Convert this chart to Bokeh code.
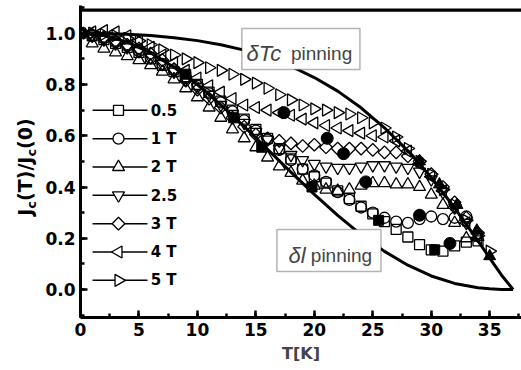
import math
from bokeh.plotting import figure
from bokeh.layouts import row
from bokeh.core.properties import value
from bokeh.models import (SingleIntervalTicker, PrintfTickFormatter, BoxAnnotation, Label,
                          Range1d, Div)
from bokeh.embed import file_html
from bokeh.resources import INLINE

# ---------------- data ----------------
T_sq = [0, 1, 2, 3, 4, 5, 6, 7, 8, 9, 10, 11, 12, 13, 14, 15, 16, 17, 18, 19, 20,
        21, 22, 23, 24, 25, 26, 27, 28, 29, 30, 31, 32, 33, 34]
J_sq = [1.00, 0.99, 0.975, 0.96, 0.945, 0.925, 0.90, 0.875, 0.85, 0.83, 0.80, 0.77, 0.735, 0.70,
        0.665, 0.625, 0.59, 0.55, 0.51, 0.47, 0.44, 0.415, 0.385, 0.355, 0.325, 0.295, 0.265,
        0.235, 0.205, 0.175, 0.155, 0.150, 0.170, 0.185, 0.190]

T_ci = [0, 1, 2, 3, 4, 5, 6, 7, 8, 9, 10, 11, 12, 13, 14, 15, 16, 17, 18, 19, 20,
        21, 22, 23, 24, 25, 26, 27, 28, 29, 30, 31, 32, 33]
J_ci = [1.0, 0.99, 0.98, 0.965, 0.95, 0.93, 0.905, 0.88, 0.855, 0.825, 0.795, 0.765, 0.73, 0.695,
        0.66, 0.62, 0.585, 0.545, 0.505, 0.47, 0.445, 0.42, 0.38, 0.35, 0.32, 0.30, 0.28, 0.265,
        0.26, 0.275, 0.285, 0.275, 0.28, 0.285]

T_tri = [0, 1, 2, 3, 4, 5, 6, 7, 8, 9, 10, 11, 12, 13, 14, 15, 16, 17, 18, 19, 20,
         21, 22, 23, 24, 25, 26, 27, 28, 29, 30, 31, 32, 33, 34]
J_tri = [1.0, 0.96, 0.94, 0.925, 0.91, 0.895, 0.875, 0.85, 0.82, 0.785, 0.75, 0.71, 0.67, 0.625,
         0.59, 0.555, 0.515, 0.48, 0.455, 0.425, 0.405, 0.39, 0.385, 0.39, 0.405, 0.415, 0.415,
         0.41, 0.41, 0.40, 0.37, 0.33, 0.26, 0.20, 0.205]

T_inv = [0, 1, 2, 3, 4, 5, 6, 7, 8, 9, 10, 11, 12, 13, 14, 15, 16, 17, 18, 19, 20,
         21, 22, 23, 24, 25, 26, 27, 28, 29, 30, 31, 32, 33, 34]
J_inv = [1.0, 0.99, 0.975, 0.96, 0.945, 0.93, 0.905, 0.88, 0.85, 0.82, 0.79, 0.76, 0.72, 0.685,
         0.65, 0.615, 0.585, 0.55, 0.525, 0.505, 0.49, 0.48, 0.475, 0.475, 0.48, 0.485, 0.485,
         0.48, 0.475, 0.46, 0.43, 0.38, 0.32, 0.26, 0.21]

T_dia = [0, 1, 2, 3, 4, 5, 6, 7, 8, 9, 10, 11, 12, 13, 14, 15, 16, 17, 18, 19, 20,
         21, 22, 23, 24, 25, 26, 27, 28, 29, 30, 31, 32, 33, 34]
J_dia = [1.0, 0.995, 0.985, 0.97, 0.955, 0.94, 0.92, 0.895, 0.86, 0.815, 0.78, 0.745, 0.71, 0.67,
         0.635, 0.605, 0.59, 0.58, 0.57, 0.56, 0.565, 0.555, 0.55, 0.55, 0.55, 0.545, 0.535,
         0.535, 0.52, 0.50, 0.45, 0.40, 0.34, 0.28, 0.22]

T_lt = [0, 1, 2, 3, 4, 5, 6, 7, 8, 9, 10, 11, 12, 13, 14, 15, 16, 17, 18, 19, 20,
        21, 22, 23, 24, 25, 26, 27, 28, 29, 30, 31, 32, 33, 34]
J_lt = [1.0, 1.005, 1.01, 1.005, 0.99, 0.97, 0.945, 0.915, 0.885, 0.855, 0.825, 0.795, 0.77, 0.745,
        0.72, 0.71, 0.70, 0.69, 0.68, 0.665, 0.65, 0.64, 0.63, 0.62, 0.61, 0.60, 0.595, 0.58,
        0.54, 0.49, 0.44, 0.385, 0.32, 0.26, 0.20]

T_rt = [0, 1, 2, 3, 4, 5, 6, 7, 8, 9, 10, 11, 12, 13, 14, 15, 16, 17, 18, 19, 20,
        21, 22, 23, 24, 25, 26, 27, 28, 29, 30, 31, 32, 33, 34, 35]
J_rt = [1.0, 1.0, 0.995, 0.99, 0.98, 0.97, 0.955, 0.935, 0.915, 0.90, 0.885, 0.865, 0.855, 0.84,
        0.82, 0.805, 0.785, 0.76, 0.74, 0.72, 0.705, 0.70, 0.69, 0.685, 0.67, 0.65, 0.63, 0.595,
        0.55, 0.50, 0.45, 0.39, 0.33, 0.27, 0.21, 0.15]

# filled (black) points
T_fsq = [9.0, 13.1, 15.5, 19.8, 25.5, 30.3]
J_fsq = [0.84, 0.67, 0.555, 0.40, 0.27, 0.155]
T_fci = [17.4, 21.1, 22.5, 24.4, 29.0, 31.6]
J_fci = [0.69, 0.59, 0.53, 0.42, 0.29, 0.18]
T_ftr = [29.0, 30.7, 32.2, 33.9, 35.0]
J_ftr = [0.50, 0.41, 0.33, 0.23, 0.13]

# theoretical curves
T_curve = [0, 2, 4, 6, 8, 10, 12, 14, 16, 18, 20, 22, 24, 26, 28, 30, 32, 34, 35, 36, 37]
J_dTc = [1.0, 0.999, 0.996, 0.991, 0.982, 0.971, 0.955, 0.934, 0.906, 0.871, 0.827, 0.774,
         0.709, 0.631, 0.541, 0.437, 0.319, 0.190, 0.123, 0.057, 0.0]
J_dl = [1.0, 0.991, 0.965, 0.923, 0.867, 0.799, 0.720, 0.636, 0.547, 0.458, 0.371, 0.289,
        0.214, 0.149, 0.095, 0.053, 0.024, 0.007, 0.003, 0.0003, 0.0]

labels = ["0.5", "1 T", "2 T", "2.5", "3 T", "4 T", "5 T"]

FONT = "DejaVu Sans"
LEFT_W = 40
X_MAX, Y_MIN, Y_MAX = 37.72, -0.109, 1.108

# ---------------- y-axis title (HTML text, rotated) ----------------
title_html = (
    '<div style="position:relative;width:40px;height:370px;">'
    '<div style="position:absolute;left:-125px;top:155px;width:300px;height:24px;'
    'line-height:24px;text-align:center;white-space:nowrap;'
    'transform:rotate(-90deg);transform-origin:150px 12px;'
    "font-family:'DejaVu Sans';font-weight:bold;font-size:19px;color:black;\">"
    'J<sub style="font-size:13px;line-height:0;vertical-align:-4px;">c</sub>(T)/J'
    '<sub style="font-size:13px;line-height:0;vertical-align:-4px;">c</sub>(0)'
    '</div></div>')
ytitle = Div(text=title_html, width=LEFT_W, height=370, margin=0)

# ---------------- main figure ----------------
p = figure(width=521 - LEFT_W, height=370, output_backend="svg", toolbar_location=None,
           x_range=Range1d(0, X_MAX), y_range=Range1d(Y_MIN, Y_MAX),
           min_border_left=80 - LEFT_W, min_border_right=0, min_border_top=5, min_border_bottom=53)
p.outline_line_color = None
p.xgrid.grid_line_color = None
p.ygrid.grid_line_color = None
p.background_fill_color = "white"

for ax in (p.xaxis[0], p.yaxis[0]):
    ax.axis_line_width = 3
    ax.major_tick_in = 7
    ax.major_tick_out = 0
    ax.minor_tick_in = 4
    ax.minor_tick_out = 0
    ax.major_tick_line_width = 2.5
    ax.minor_tick_line_width = 2.5
    ax.major_label_text_font = FONT
    ax.major_label_text_font_style = "bold"
    ax.major_label_text_font_size = "17px"
    ax.major_label_text_color = "black"
    ax.major_label_standoff = 5

p.xaxis.ticker = SingleIntervalTicker(interval=5, num_minor_ticks=2)
p.yaxis.ticker = SingleIntervalTicker(interval=0.2, num_minor_ticks=2)
p.yaxis.formatter = PrintfTickFormatter(format="%.1f")
p.xaxis.axis_label = "T[K]"
p.xaxis.axis_label_text_font = FONT
p.xaxis.axis_label_text_font_style = "bold"
p.xaxis.axis_label_text_font_size = "16px"
p.xaxis.axis_label_standoff = 5
p.yaxis.axis_label = None

# top frame line: a thin black band just below the top edge of the frame
p.add_layout(BoxAnnotation(left=0, right=X_MAX, top=1.096, bottom=1.084,
                           fill_color="black", fill_alpha=1, line_color=None))

series = [
    (T_sq, J_sq, "square", 0.0, 10),
    (T_ci, J_ci, "circle", 0.0, 11),
    (T_tri, J_tri, "triangle", 0.0, 12),
    (T_inv, J_inv, "inverted_triangle", 0.0, 12),
    (T_dia, J_dia, "square", math.pi / 4, 9),
    (T_lt, J_lt, "triangle", math.pi / 2, 12),
    (T_rt, J_rt, "triangle", -math.pi / 2, 12),
]

for tx, jy, mk, ang, sz in series:
    p.scatter(tx, jy, marker=mk, angle=ang, size=sz, line_color="black", line_width=1.3,
              fill_alpha=0)

# curves
p.line(T_curve, J_dTc, line_color="black", line_width=3)
p.line(T_curve, J_dl, line_color="black", line_width=3)

p.scatter(T_fsq, J_fsq, marker="square", size=10, color="black")
p.scatter(T_fci, J_fci, marker="circle", size=12, color="black")
p.scatter(T_ftr, J_ftr, marker="triangle", size=12, color="black")

# ---------------- legend (drawn as keys in the plot area) ----------------
LEG_X0, LEG_X1, LEG_XM, LEG_XT = 1.03, 5.73, 3.25, 6.0
LEG_Y0, LEG_DY = 0.699, 0.1105
for i, ((tx, jy, mk, ang, sz), lab) in enumerate(zip(series, labels)):
    yy = LEG_Y0 - i * LEG_DY
    p.segment(x0=[LEG_X0], y0=[yy], x1=[LEG_X1], y1=[yy], line_color="black", line_width=1.5)
    p.scatter([LEG_XM], [yy], marker=mk, angle=ang, size=sz, line_color="black",
              line_width=1.3, fill_color="white")
    p.text(x=[LEG_XT], y=[yy], text=[lab], text_font=value(FONT), text_font_style="bold",
           text_font_size="15px", text_baseline="middle", text_color="black")

# boxed annotations
p.add_layout(BoxAnnotation(left=13.8, right=23.9, bottom=0.858, top=1.018,
                           fill_color="white", fill_alpha=1, line_color="black",
                           line_width=1.5))
p.add_layout(BoxAnnotation(left=16.8, right=25.7, bottom=0.070, top=0.234,
                           fill_color="white", fill_alpha=1, line_color="black",
                           line_width=1.5))
TF = "Liberation Sans"
p.add_layout(Label(x=14.2, y=0.92, text="δTc", text_font=TF, text_font_style="italic",
                   text_font_size="22px", text_baseline="alphabetic"))
p.add_layout(Label(x=18.0, y=0.92, text="pinning", text_font=TF,
                   text_font_size="19px", text_baseline="alphabetic"))
p.add_layout(Label(x=17.8, y=0.133, text="δl", text_font=TF, text_font_style="italic",
                   text_font_size="22px", text_baseline="alphabetic"))
p.add_layout(Label(x=19.7, y=0.133, text="pinning", text_font=TF,
                   text_font_size="19px", text_baseline="alphabetic"))

layout = row(ytitle, p, spacing=0)
open("out.html", "w").write(file_html(layout, INLINE))
